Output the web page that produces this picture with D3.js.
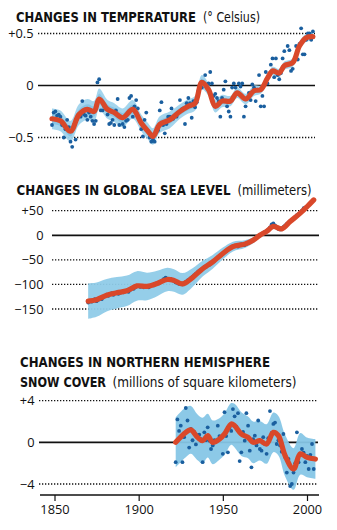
<!DOCTYPE html>
<html><head><meta charset="utf-8">
<script src="https://cdn.jsdelivr.net/npm/d3@7"></script>
<style>body{margin:0;background:#fff}svg{display:block}</style>
</head><body><svg id="c" width="337" height="530"></svg>
<script>
// ---------- DATA ----------
const xTickYears = [1850, 1900, 1950, 2000];

// Temperature (°C), annual values 1850–2005
const tempStart = 1850;
const tempDots = [
 -0.38,-0.26,-0.25,-0.29,-0.28,-0.30,-0.38,-0.50,-0.42,-0.33,
 -0.40,-0.54,-0.59,-0.38,-0.52,-0.32,-0.28,-0.30,-0.15,-0.28,
 -0.29,-0.33,-0.26,-0.30,-0.34,-0.37,-0.34,0.03,0.06,-0.24,
 -0.24,-0.20,-0.22,-0.28,-0.37,-0.36,-0.33,-0.38,-0.24,-0.13,
 -0.38,-0.30,-0.37,-0.40,-0.34,-0.33,-0.12,-0.10,-0.30,-0.20,
 -0.14,-0.22,-0.33,-0.42,-0.49,-0.33,-0.26,-0.44,-0.50,-0.54,
 -0.52,-0.54,-0.45,-0.43,-0.24,-0.16,-0.38,-0.46,-0.37,-0.30,
 -0.30,-0.22,-0.32,-0.29,-0.30,-0.26,-0.14,-0.23,-0.22,-0.37,
 -0.17,-0.12,-0.17,-0.31,-0.15,-0.21,-0.16,-0.05,0.00,-0.02,
 0.03,0.10,0.01,0.02,0.13,0.02,-0.10,-0.08,-0.12,-0.15,
 -0.30,-0.12,-0.04,0.04,-0.20,-0.25,-0.30,-0.02,0.02,-0.02,
 -0.08,0.02,-0.01,0.02,-0.30,-0.20,-0.12,-0.07,-0.14,0.01,
 -0.02,-0.15,-0.04,0.10,-0.20,-0.10,-0.20,0.13,0.02,0.10,
 0.20,0.26,0.08,0.26,0.10,0.06,0.12,0.26,0.33,0.20,
 0.38,0.34,0.14,0.16,0.24,0.38,0.25,0.40,0.55,0.30,
 0.30,0.44,0.50,0.50,0.44,0.52];
const tempSmoothYears = [1850,1855,1861,1866,1871,1875,1878,1883,1887,1892,1898,1903,1907,1910,1914,1920,1926,1931,1935,1939,1943,1947,1951,1956,1960,1965,1970,1974,1978,1981,1985,1988,1993,1997,2001,2005];
const tempSmooth = [-0.32,-0.34,-0.44,-0.28,-0.23,-0.25,-0.13,-0.23,-0.26,-0.31,-0.23,-0.36,-0.44,-0.49,-0.375,-0.33,-0.25,-0.20,-0.17,0.03,-0.04,-0.20,-0.15,-0.15,-0.07,-0.13,-0.05,-0.04,0.07,0.14,0.12,0.19,0.22,0.38,0.46,0.47];
const tempBand = [0.10,0.10,0.10,0.10,0.10,0.10,0.10,0.09,0.09,0.09,0.09,0.08,0.08,0.08,0.08,0.08,0.07,0.07,0.07,0.07,0.06,0.06,0.06,0.05,0.05,0.05,0.05,0.04,0.04,0.04,0.04,0.04,0.04,0.04,0.04,0.04];
const tempTicks = [0.5, 0, -0.5];
const tempTickLabels = ["+0.5", "0", "\u22120.5"];

// Sea level (mm), annual values 1870–2004
const seaStart = 1870;
const seaDots = [
 -137,-133,-135,-132,-130,-134,-131,-128,-130,-125,
 -124,-121,-123,-120,-118,-121,-117,-116,-119,-117,
 -115,-116,-114,-112,-115,-111,-108,-109,-106,-103,
 -103,-105,-103,-106,-104,-104,-106,-103,-101,-102,
 -99,-97,-98,-95,-92,-89,-86,-88,-90,-89,
 -91,-93,-96,-97,-99,-98,-100,-97,-95,-92,
 -90,-87,-84,-81,-78,-75,-72,-70,-68,-65,
 -64,-61,-60,-57,-54,-52,-49,-46,-43,-40,
 -37,-34,-32,-29,-27,-25,-22,-21,-22,-23,
 -19,-18,-20,-20,-18,-15,-14,-12,-10,-7,
 -5,-2,1,3,5,7,9,12,16,22,
 24,20,16,13,12,14,17,20,23,26,
 29,31,33,37,41,43,46,50,55,56,
 58,62,65,69,72];
const seaSmoothYears = [1870,1875,1881,1887,1893,1899,1905,1911,1917,1921,1926,1932,1938,1944,1950,1956,1963,1968,1972,1976,1980,1985,1990,1996,2000,2004];
const seaSmooth = [-134,-131,-122,-117,-113,-103,-104,-98,-90,-92,-99,-86,-68,-54,-37,-23,-18,-10,0,8,18,13,28,45,58,72];
const seaBand = [36,35,33,32,31,30,28,26,24,23,22,19,16,14,12,10,8,6,5,5,5,5,4,4,4,4];
const seaTicks = [50, 0, -50, -100, -150];
const seaTickLabels = ["+50", "0", "\u221250", "\u2212100", "\u2212150"];

// Snow cover (million km²), annual values 1922–2005
const snowStart = 1922;
const snowDots = [
 -1.9,2.2,1.1,1.6,-1.9,0.5,3.3,2.1,-0.5,1.3,
 0.2,1.0,-0.2,0.7,0.74,0.3,-1.9,0.96,0.2,1.44,
 0.16,-0.64,-0.3,0.2,0.1,1.6,0.6,0.48,-1.1,2.9,
 0.6,-0.96,1.4,1.1,3.2,2.5,1.5,2.8,-1.8,-0.96,
 1.0,0.16,2.8,1.6,-0.8,-2.4,0.3,0.64,-0.3,2.1,
 -0.64,-0.8,0.5,-0.16,-1.1,0.4,3.0,0.9,1.77,1.9,
 -0.16,0.2,-0.3,-0.9,0.8,-1.4,-2.9,-1.6,-4.2,-4.0,
 -2.9,-2.0,0.96,-1.9,-1.2,-0.64,-1.0,-1.9,-1.3,-2.56,
 -1.2,-0.16,-2.56,-1.6];
const snowSmoothYears = [1922,1928,1931,1935,1938,1941,1944,1948,1951,1955,1957,1961,1965,1968,1972,1976,1980,1983,1987,1992,1996,2000,2005];
const snowSmooth = [0,0.96,1.2,0.48,0.16,0.64,0,0.32,0.8,1.77,1.6,0.8,0.48,0,0.16,-0.16,0.96,0.64,-1.28,-2.56,-1.1,-1.44,-1.6];
const snowBand = [2.4,2.4,2.3,2.2,2.2,2.1,2.1,2.0,2.0,2.0,2.1,2.1,2.0,2.0,1.9,1.9,1.9,1.9,2.0,2.0,2.0,1.9,1.9];
const snowTicks = [4, 0, -4];
const snowTickLabels = ["+4", "0", "\u22124"];

// ---------- DRAW ----------
const svg = d3.select("#c");
const RED = "#d9482a", DOT = "#1a5f9f", BAND = "#9fd3ec", BAND2 = "#7fc1e2";
const titleFont = '"Liberation Sans Narrow","DejaVu Sans Condensed","Roboto Condensed","Liberation Sans",sans-serif';
const tickFont = '"Open Sans","Noto Sans",sans-serif';

const x = d3.scaleLinear().domain([1850, 2000]).range([54.5, 307]);
const xTemp = x.copy().range([52, 304.5]);

function title(parts, baseline) {
  parts.forEach(p => {
    svg.append("text").attr("x", p.x).attr("y", baseline)
      .attr("font-family", titleFont).attr("font-size", 13.8)
      .attr("font-weight", p.bold ? "bold" : "normal")
      .attr("fill", "#111")
      .attr("textLength", p.w).attr("lengthAdjust", "spacingAndGlyphs")
      .text(p.t);
  });
}

function panel(cfg) {
  const g = svg.append("g");
  const y = d3.scaleLinear().domain(cfg.domain).range(cfg.range);
  const xs = cfg.xs;
  cfg.ticks.forEach((t, i) => {
    const zero = t === 0;
    g.append("line").attr("x1", cfg.x0).attr("x2", cfg.x1)
      .attr("y1", y(t)).attr("y2", y(t))
      .attr("stroke", "#111")
      .attr("stroke-width", zero ? 1.7 : 1.3)
      .attr("stroke-dasharray", zero ? null : "1.3,1.7");
    g.append("text").attr("x", cfg.labelX).attr("y", y(t))
      .attr("dy", "0.36em").attr("text-anchor", "end")
      .attr("font-family", tickFont).attr("font-size", 12.8).attr("fill", "#111")
      .text(cfg.labels[i]);
  });
  const sm = cfg.sy.map((yr, i) => ({yr, v: cfg.sv[i], hw: cfg.hw[i]}));
  const area = k => d3.area().x(d => xs(d.yr))
      .y0(d => y(d.v - d.hw * k)).y1(d => y(d.v + d.hw * k))
      .curve(d3.curveCatmullRom.alpha(0.5));
  g.append("path").datum(sm).attr("d", area(1)).attr("fill", cfg.band).attr("opacity", 0.95);
  if (cfg.inner) g.append("path").datum(sm).attr("d", area(0.5)).attr("fill", BAND2).attr("opacity", 0.8);
  const dots = cfg.dots.map((v, i) => ({yr: cfg.start + i, v}));
  g.selectAll("circle.d").data(dots).join("circle")
    .attr("cx", d => xs(d.yr)).attr("cy", d => y(d.v)).attr("r", cfg.r)
    .attr("fill", DOT);
  g.append("path").datum(sm)
    .attr("d", d3.line().x(d => xs(d.yr)).y(d => y(d.v)).curve(d3.curveCatmullRom.alpha(0.5)))
    .attr("fill", "none").attr("stroke", RED).attr("stroke-width", 5.2)
    .attr("stroke-linecap", "round").attr("stroke-linejoin", "round");
  return y;
}

// Titles
title([{t: "CHANGES IN TEMPERATURE", x: 16, w: 180, bold: true},
       {t: "(\u00B0 Celsius)", x: 203, w: 57}], 21.7);
title([{t: "CHANGES IN GLOBAL SEA LEVEL", x: 16.5, w: 214, bold: true},
       {t: "(millimeters)", x: 237.5, w: 74}], 195);
title([{t: "CHANGES IN NORTHERN HEMISPHERE", x: 20, w: 250, bold: true}], 367.3);
title([{t: "SNOW COVER", x: 20, w: 86, bold: true},
       {t: "(millions of square kilometers)", x: 112.5, w: 184}], 386.7);

panel({domain: [-0.5, 0.5], range: [137.5, 33.5], ticks: tempTicks, labels: tempTickLabels,
  x0: 38, x1: 315, labelX: 33.5, xs: xTemp,
  sy: tempSmoothYears, sv: tempSmooth, hw: tempBand, band: BAND, inner: true,
  dots: tempDots, start: tempStart, r: 1.9});

panel({domain: [-150, 50], range: [309, 210.7], ticks: seaTicks, labels: seaTickLabels,
  x0: 52, x1: 319, labelX: 43.5, xs: x,
  sy: seaSmoothYears, sv: seaSmooth, hw: seaBand, band: "#8fcbe8", inner: false,
  dots: seaDots, start: seaStart, r: 1.9});

panel({domain: [-4, 4], range: [484, 400.7], ticks: snowTicks, labels: snowTickLabels,
  x0: 39, x1: 318, labelX: 34.5, xs: x,
  sy: snowSmoothYears, sv: snowSmooth, hw: snowBand, band: "#86c6e6", inner: false,
  dots: snowDots, start: snowStart, r: 1.9});

// X axis
const ax = svg.append("g").attr("transform", "translate(0,495)");
ax.append("line").attr("x1", 40).attr("x2", 319).attr("stroke", "#111").attr("stroke-width", 1.6);
const axis = d3.axisBottom(x).tickValues(xTickYears).tickFormat(d3.format("d")).tickSize(6).tickPadding(4);
const axg = ax.append("g").call(axis);
axg.select(".domain").remove();
axg.selectAll(".tick line").attr("stroke", "#111").attr("stroke-width", 1.2);
axg.selectAll(".tick text").attr("font-family", tickFont).attr("font-size", 12.8).attr("fill", "#111");
</script></body></html>
